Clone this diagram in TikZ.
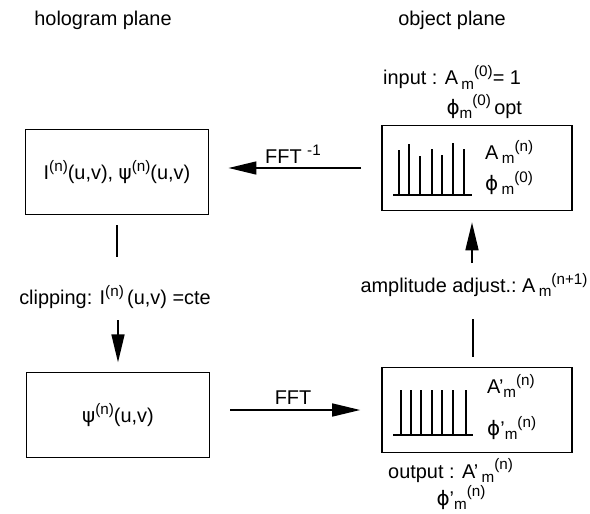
\documentclass[tikz,border=0pt]{standalone}
\usepackage{fontspec}
\setmainfont{Liberation Sans}
\newfontfamily\gr{DejaVu Sans}
\usetikzlibrary{arrows.meta,positioning}
% lowered index and raised iteration counter
\newcommand{\lo}[1]{\raisebox{-0.4ex}{\fontsize{13}{13}\selectfont #1}}
\newcommand{\hi}[1]{\raisebox{0.8ex}{\fontsize{13}{13}\selectfont #1}}

\begin{document}
\begin{tikzpicture}[x=0.3mm, y=-0.3mm,
  font=\fontsize{17}{25}\selectfont,
  box/.style={draw, line width=1.4pt, minimum width=5.5cm, minimum height=2.55cm, inner sep=0pt},
  specbox/.style={box, minimum width=5.7cm},
  flow/.style={line width=1.4pt, -{Triangle[length=8.4mm, width=3.9mm]}},
  link/.style={line width=1.4pt},
  peak/.style={line width=1.4pt},
  lbl/.style={inner sep=0pt}]

  \useasboundingbox (0,0) rectangle (590,514);

  % column titles
  \node[lbl] (holoplane) at (103,20) {hologram plane};
  \node[lbl] (objplane) at (452,20) {object plane};

  % the four stages
  \node[box] (holo) at (117,172) {I\hi{(n)}(u,v), {\gr ψ}\hi{(n)}(u,v)};
  \node[box] (psi) at (118,415) {{\gr ψ}\hi{(n)}(u,v)};
  \node[specbox] (spec) at (477,168) {};
  \node[specbox] (outp) at (477,410) {};

  % spectra inside the object plane boxes
  \draw[peak] (393,195) -- (472,195);
  \foreach \x/\t in {399/150, 409/144, 420/156, 432/149, 442/155, 453/143, 464/149}
    \draw[peak] (\x,195) -- (\x,\t);
  \draw[peak] (393,435) -- (473,435);
  \foreach \x in {401,411,421,432,442,453,466}
    \draw[peak] (\x,435) -- (\x,390);

  \node[lbl, anchor=west] (amag) at (485,152) {A\,\lo{m}\hi{(n)}};
  \node[lbl, anchor=west] (aphase) at (485,183) {{\gr ϕ}\,\lo{m}\hi{(0)}};
  \node[lbl, anchor=west] (bmag) at (487,386) {A'\lo{m}\hi{(n)}};
  \node[lbl, anchor=west] (bphase) at (487,428) {{\gr ϕ}'\lo{m}\hi{(n)}};

  % labels
  \node[lbl, align=left, anchor=west] (input) at (383,92)
    {input : A\,\lo{m}\hi{(0)}= 1\\\hspace*{1.9cm}{\gr ϕ}\lo{m}\hi{(0)}\,opt};
  \node[lbl, align=left, anchor=west, font=\fontsize{17}{23}\selectfont] (output) at (388,484)
    {output : A'\,\lo{m}\hi{(n)}\\\hspace*{1.45cm}{\gr ϕ}'\lo{m}\hi{(n)}};
  \node[lbl] (fftinv) at (293,154) {FFT \hi{-1}};
  \node[lbl] (fft) at (293,398) {FFT};
  \node[lbl] (clip) at (115,297) {clipping: I\hi{(n)}\,(u,v) =cte};
  \node[lbl] (amp) at (474,285) {amplitude adjust.:\ A\,\lo{m}\hi{(n+1)}};

  % connectors
  \coordinate (cliptop) at (117,257);
  \coordinate (clipbot) at (118,320);
  \coordinate (ampbot) at (473,319);
  \coordinate (amptop) at (472,263);

  \draw[flow, shorten <=6mm, shorten >=5.7mm] (spec.west) -- (spec.west -| holo.east);
  \draw[link, shorten <=3mm] (holo.south) -- (cliptop);
  \draw[flow, shorten >=2.8mm] (clipbot) -- (psi.north);
  \draw[flow, shorten <=6mm, shorten >=6.3mm] (psi.east |- outp.west) -- (outp.west);
  \draw[link, shorten >=3mm] (ampbot) -- (ampbot |- outp.north);
  \draw[flow, shorten >=3.3mm] (amptop) -- (amptop |- spec.south);
\end{tikzpicture}
\end{document}
